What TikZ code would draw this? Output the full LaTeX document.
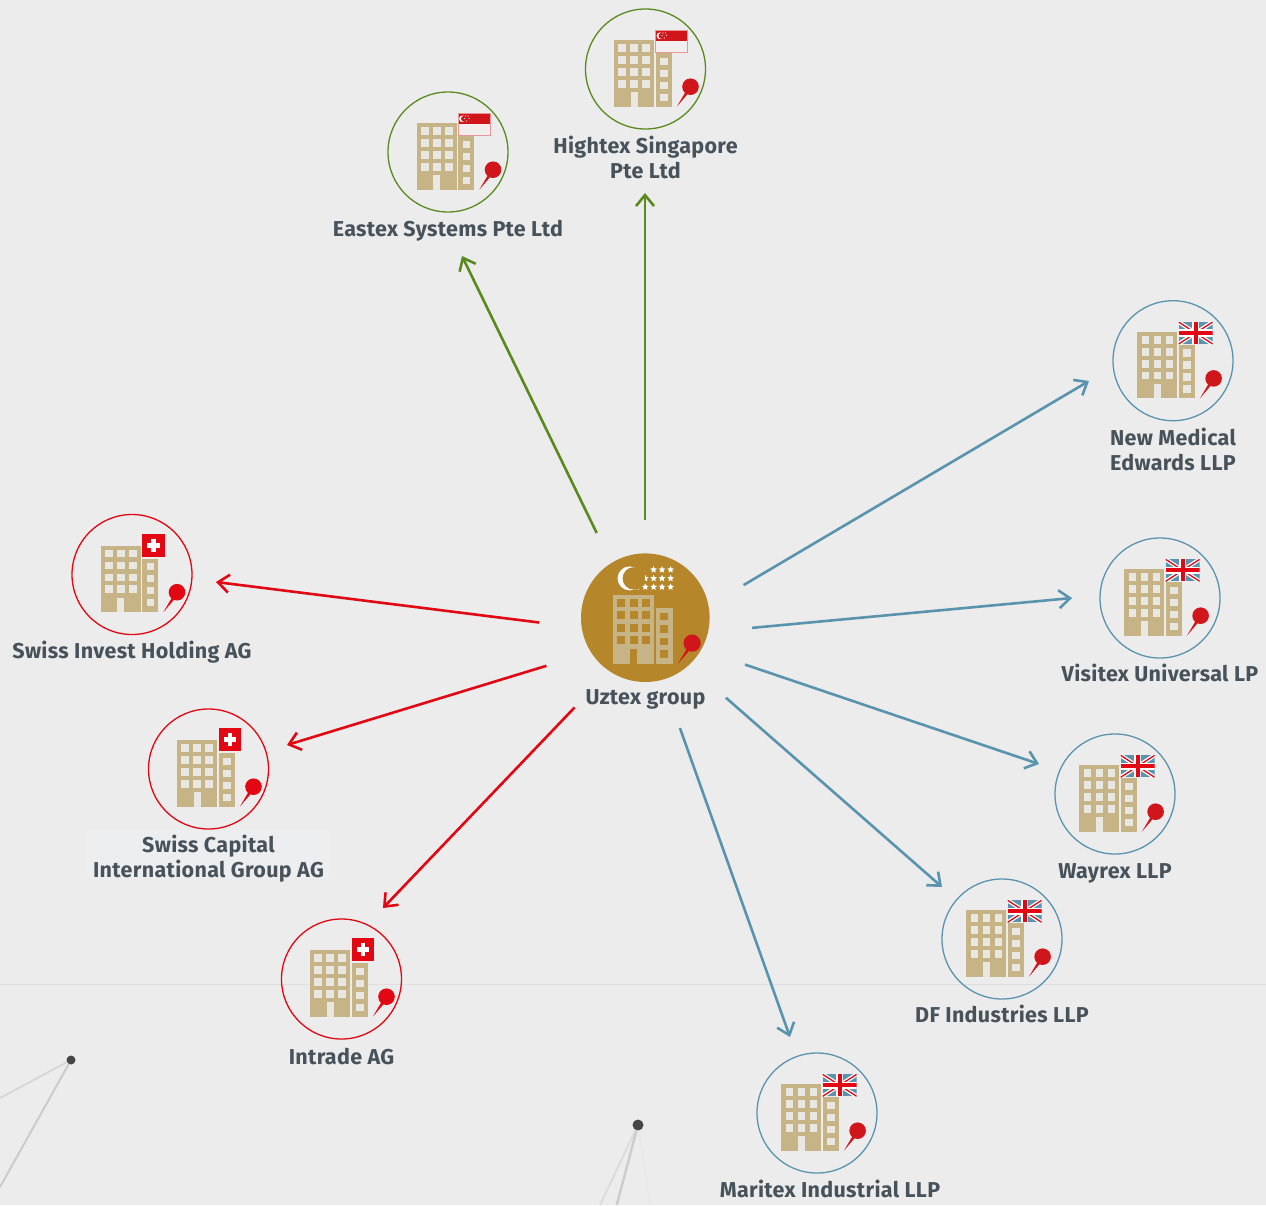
\documentclass[tikz,border=0pt]{standalone}
\usepackage{fontspec}
\setmainfont[LetterSpace=1.5]{Fira Sans}
\usetikzlibrary{arrows.meta,shapes.geometric}

\definecolor{paper}{HTML}{ECECEC}
\definecolor{namepatch}{HTML}{EDEEF0}
\definecolor{tan}{HTML}{C6B486}
\definecolor{gold}{HTML}{B5862A}
\definecolor{slate}{HTML}{47525A}
\definecolor{leaf}{HTML}{5A8A1E}
\definecolor{steel}{HTML}{5A93AE}
\definecolor{signal}{HTML}{E30613}
\definecolor{pinred}{HTML}{D0161A}
\definecolor{winpale}{HTML}{E9E7E1}
\definecolor{flagpale}{HTML}{F2EEEE}

\tikzset{
	firm/.style={circle,draw=#1,minimum size=120pt,inner sep=0pt,line width=1.3pt},
	firmname/.style={inner sep=0pt,anchor=base,align=center,text=slate,font=\fontsize{21.5}{25}\selectfont\bfseries},
	link/.style={draw=#1,line width=2.6pt,-{Straight Barb[length=11pt,width=18pt,line width=2.6pt]}},
	hubstar/.style={star,star points=5,star point ratio=2.1,fill=white,minimum size=7pt,inner sep=0pt},
	pics/office/.style 2 args={code={
		\fill[tan] (-31.3,-29) rectangle (8.7,37.7);
		\fill[tan] (10.3,-15.7) rectangle (26.3,37.7);
		\foreach \wx in {-23.3,-11.3,0.7}
			\foreach \wy in {-21,-9,3,14.7}
				\fill[#1] (\wx-3.8,\wy-3.8) rectangle (\wx+3.8,\wy+3.8);
		\foreach \wy in {-7.7,4.3,16.3,28.3}
			\fill[#1] (14.6,\wy-3.6) rectangle (22,\wy+3.6);
		\fill[#1] (-15,23) rectangle (-7.7,37.7);
		\fill[#2] (45,17.7) circle (8.3);
		\fill[#2] (31.3,37.7) -- (41.4,20.6) -- (44,22.8) -- cycle;
	}},
	pics/sgflag/.style={code={
		\fill[flagpale] (10,-38.7) rectangle (42.3,-17);
		\fill[pinred] (10,-38.7) rectangle (42.3,-27.7);
		\draw[pinred!45!white,line width=.7pt] (10,-38.7) rectangle (42.3,-17);
		\fill[white] (14.5,-33.2) circle (3.4);
		\fill[pinred] (16,-33.2) circle (3);
		\foreach \sx/\sy in {17.5/-36,20/-36,16.5/-33.6,21/-33.6,18.7/-31}
			\fill[white] (\sx,\sy) circle (.6);
	}},
	pics/chflag/.style={code={
		\fill[signal] (10,-40.7) rectangle (32.7,-18);
		\fill[white] (19,-35.7) rectangle (23.7,-23);
		\fill[white] (15,-31.7) rectangle (27.7,-27);
	}},
	pics/ukflag/.style={code={
		\begin{scope}
			\clip (10,-38.7) rectangle (44,-16.7);
			\fill[steel] (10,-38.7) rectangle (44,-16.7);
			\draw[white,line width=4pt] (10,-38.7) -- (44,-16.7) (10,-16.7) -- (44,-38.7);
			\draw[signal,line width=1.3pt] (10,-38.7) -- (44,-16.7) (10,-16.7) -- (44,-38.7);
			\draw[white,line width=7.5pt] (27,-38.7) -- (27,-16.7) (10,-27.7) -- (44,-27.7);
			\draw[signal,line width=4.2pt] (27,-38.7) -- (27,-16.7) (10,-27.7) -- (44,-27.7);
		\end{scope}
	}},
}

\begin{document}
\begin{tikzpicture}[x=1pt,y=-1pt]
	\useasboundingbox (0,0) rectangle (1266,1205);
	\fill[paper] (0,0) rectangle (1266,1205);
	\draw[black!13,line width=1pt] (0,984) -- (1266,984);

	% faint network in the back
	\node[circle,fill=black!72,inner sep=0pt,minimum size=9pt] (dotA) at (71,1060) {};
	\node[circle,fill=black!72,inner sep=0pt,minimum size=11pt] (dotB) at (638,1125) {};
	\coordinate (dotAa) at (0,1098);
	\coordinate (dotAb) at (0,1187);
	\coordinate (dotBa) at (600,1205);
	\coordinate (dotBb) at (616.7,1205);
	\coordinate (dotBc) at (650,1205);
	\draw[black!16,line width=1.8pt] (dotA) -- (dotAa);
	\draw[black!20,line width=2pt] (dotA) -- (dotAb);
	\draw[black!14,line width=1.8pt] (dotB) -- (dotBa);
	\draw[black!20,line width=2.4pt] (dotB) -- (dotBb);
	\draw[black!9,line width=2pt] (dotB) -- (dotBc);

	% firms
	\node[circle,fill=gold,minimum size=128.6pt,inner sep=0pt] (uztex) at (645.3,617.7) {};
	\node[firm=leaf] (eastex) at (448,152) {};
	\node[firm=leaf] (hightex) at (645.5,69) {};
	\node[firm=steel] (newmedical) at (1173,360.7) {};
	\node[firm=steel] (visitex) at (1160,598) {};
	\node[firm=steel] (wayrex) at (1115,794) {};
	\node[firm=steel] (dfind) at (1002,939) {};
	\node[firm=steel] (maritex) at (817,1113) {};
	\node[firm=signal] (swissinvest) at (132,574.5) {};
	\node[firm=signal] (swisscapital) at (208.5,769) {};
	\node[firm=signal] (intrade) at (341.5,979) {};

	\pic[scale=1.04] at ([yshift=-7pt]uztex) {office={gold}{pinred}};
	\foreach \sx/\sy in {8.3/-48,16.7/-48,25.3/-48,0/-39.3,8.3/-39.3,16.7/-39.3,25.3/-39.3,-8.3/-30.7,0/-30.7,8.3/-30.7,16.7/-30.7,25.3/-30.7}
		\node[hubstar] (star\sx\sy) at ([xshift=\sx pt,yshift=-\sy pt]uztex) {};
	\fill[white] ([xshift=-15.7pt,yshift=39.3pt]uztex) circle (12);
	\fill[gold] ([xshift=-11.5pt,yshift=39.3pt]uztex) circle (11.2);

	\pic at (eastex) {office={winpale}{pinred}};
	\pic at (eastex) {sgflag};
	\pic at (hightex) {office={winpale}{pinred}};
	\pic at (hightex) {sgflag};
	\pic at ([xshift=-4.4pt]newmedical) {office={winpale}{pinred}};
	\pic at ([xshift=-4.4pt]newmedical) {ukflag};
	\pic at ([xshift=-4.4pt]visitex) {office={winpale}{pinred}};
	\pic at ([xshift=-4.4pt]visitex) {ukflag};
	\pic at ([xshift=-4.4pt]wayrex) {office={winpale}{pinred}};
	\pic at ([xshift=-4.4pt]wayrex) {ukflag};
	\pic at ([xshift=-4.4pt]dfind) {office={winpale}{pinred}};
	\pic at ([xshift=-4.4pt]dfind) {ukflag};
	\pic at ([xshift=-4.4pt]maritex) {office={winpale}{pinred}};
	\pic at ([xshift=-4.4pt]maritex) {ukflag};
	\pic at (swissinvest) {office={winpale}{signal}};
	\pic at (swissinvest) {chflag};
	\pic at (swisscapital) {office={winpale}{signal}};
	\pic at (swisscapital) {chflag};
	\pic at (intrade) {office={winpale}{signal}};
	\pic at (intrade) {chflag};

	% names
	\fill[namepatch] (86,830) rectangle (330,878);
	\node[firmname] (uztexname) at (645.5,704) {Uztex group};
	\node[firmname] (eastexname) at (448,236) {Eastex Systems Pte Ltd};
	\node[firmname] (hightexname) at (645.5,178) {Hightex Singapore\\Pte Ltd};
	\node[firmname] (newmedicalname) at (1173,470) {New Medical\\Edwards LLP};
	\node[firmname] (visitexname) at (1160,681) {Visitex Universal LP};
	\node[firmname] (wayrexname) at (1115,878) {Wayrex LLP};
	\node[firmname] (dfindname) at (1002,1022) {DF Industries LLP};
	\node[firmname] (maritexname) at (830,1197) {Maritex Industrial LLP};
	\node[firmname] (swissinvestname) at (132,658) {Swiss Invest Holding AG};
	\node[firmname] (swisscapitalname) at (208.5,877) {Swiss Capital\\International Group AG};
	\node[firmname] (intradename) at (341.5,1064) {Intrade AG};

	% arrows leave the hub ring
	\node[circle,minimum size=200pt,inner sep=0pt] (hub) at (645,632) {};
	\coordinate (eastextip) at (462,256);
	\coordinate (hightextip) at (645,193);
	\coordinate (newmedicaltip) at (1089,381);
	\coordinate (visitextip) at (1072,598);
	\coordinate (wayrextip) at (1039,764);
	\coordinate (dfindtip) at (942,887);
	\coordinate (maritextip) at (790,1037);
	\coordinate (swissinvesttip) at (216,582);
	\coordinate (swisscapitaltip) at (287,745);
	\coordinate (intradetip) at (383,908);
	\draw[link=leaf,shorten <=10pt] (hub.116.3) -- (eastextip);
	\draw[link=leaf,shorten <=12pt] (hub.90) -- (hightextip);
	\draw[link=steel,shorten <=9pt] (hub.25.6) -- (newmedicaltip);
	\draw[link=steel,shorten <=7pt] (hub.2.7) -- (visitextip);
	\draw[link=steel,shorten <=5pt] (hub.-18.3) -- (wayrextip);
	\draw[link=steel,shorten <=4pt] (hub.-39.5) -- (dfindtip);
	\draw[link=steel,shorten <=2pt] (hub.-70.5) -- (maritextip);
	\draw[link=signal,shorten <=6pt] (hub.175) -- (swissinvesttip);
	\draw[link=signal,shorten <=4pt] (hub.-161.6) -- (swisscapitaltip);
	\draw[link=signal,shorten <=3pt] (hub.-133.8) -- (intradetip);
\end{tikzpicture}
\end{document}
